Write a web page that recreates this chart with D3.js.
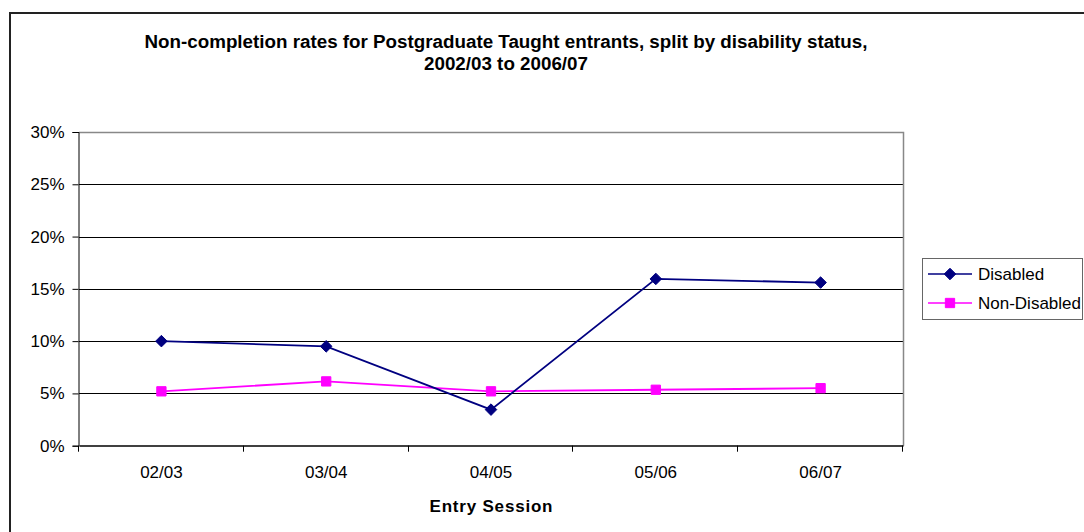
<!DOCTYPE html>
<html>
<head>
<meta charset="utf-8">
<script src="https://cdn.jsdelivr.net/npm/d3@7"></script>
<style>
  body { margin: 0; background: #fff; }
  svg { display: block; font-family: "Liberation Sans", Arial, sans-serif; }
</style>
</head>
<body>
<svg width="1084" height="532"></svg>
<script>
const sessions = ["02/03", "03/04", "04/05", "05/06", "06/07"];
const disabled = [10.0, 9.5, 3.45, 15.95, 15.6];
const nonDisabled = [5.2, 6.15, 5.2, 5.35, 5.5];
const yTicks = [0, 5, 10, 15, 20, 25, 30];

const svg = d3.select("svg");
const font = "Liberation Sans, Arial, sans-serif";
const labelSize = 17;

const plot = { left: 79, right: 903, top: 132, bottom: 445.7 };

// outer chart frame (cut off at the right and bottom)
svg.append("path")
    .attr("d", "M10,540 L10,13 L1100,13")
    .attr("fill", "none")
    .attr("stroke", "#222")
    .attr("stroke-width", 2);

// title
const title = svg.append("text")
    .attr("text-anchor", "middle")
    .attr("font-weight", "bold")
    .attr("font-size", 18.8)
    .attr("fill", "#000");
title.append("tspan").attr("x", 506).attr("y", 48)
    .attr("textLength", 723).attr("lengthAdjust", "spacingAndGlyphs")
    .text("Non-completion rates for Postgraduate Taught entrants, split by disability status,");
title.append("tspan").attr("x", 506).attr("y", 70)
    .text("2002/03 to 2006/07");

const x = d3.scaleBand()
    .domain(sessions)
    .range([plot.left, plot.right]);

const y = d3.scaleLinear()
    .domain([0, 30])
    .range([plot.bottom, plot.top]);

// gridlines
svg.append("g")
    .selectAll("line")
    .data(yTicks.filter(d => d > 0 && d < 30))
    .enter()
    .append("line")
    .attr("x1", plot.left)
    .attr("x2", plot.right)
    .attr("y1", d => Math.round(y(d)) + 0.5)
    .attr("y2", d => Math.round(y(d)) + 0.5)
    .attr("stroke", "#000")
    .attr("stroke-width", 1);

// plot area border (top and right in gray)
svg.append("path")
    .attr("d", `M${plot.left},${Math.round(plot.top) + 0.5} L${plot.right + 0.5},${Math.round(plot.top) + 0.5} L${plot.right + 0.5},${plot.bottom}`)
    .attr("fill", "none")
    .attr("stroke", "#888")
    .attr("stroke-width", 1.5);

// y axis
const yAxis = svg.append("g")
    .attr("transform", `translate(${plot.left - 0.5},0)`)
    .call(d3.axisLeft(y).tickValues(yTicks).tickFormat(d => d + "%").tickSize(6).tickPadding(8));
yAxis.select(".domain").attr("stroke", "#000");
yAxis.selectAll("text").attr("font-size", labelSize).attr("font-family", font).attr("fill", "#000");

// x axis
const xAxis = svg.append("g")
    .attr("transform", `translate(0,${Math.round(plot.bottom) - 0.5})`)
    .call(d3.axisBottom(x).tickSize(0).tickPadding(20));
xAxis.select(".domain").attr("stroke", "#000").attr("stroke-width", 1.5);
xAxis.selectAll("text").attr("font-size", labelSize).attr("font-family", font).attr("fill", "#000");

// category boundary ticks
svg.append("g")
    .selectAll("line")
    .data(d3.range(sessions.length + 1))
    .enter()
    .append("line")
    .attr("x1", i => Math.round(plot.left + i * x.step()) - 0.5)
    .attr("x2", i => Math.round(plot.left + i * x.step()) - 0.5)
    .attr("y1", plot.bottom)
    .attr("y2", plot.bottom + 6)
    .attr("stroke", "#000");

svg.append("text")
    .attr("x", (plot.left + plot.right) / 2)
    .attr("y", 512)
    .attr("text-anchor", "middle")
    .attr("font-weight", "bold")
    .attr("font-size", 17)
    .attr("textLength", 123)
    .attr("lengthAdjust", "spacing")
    .text("Entry Session");

const cx = d => x(d) + x.bandwidth() / 2;

const series = [
    { name: "Disabled", values: disabled, color: "#000080", shape: d3.symbolDiamond2, size: 85 },
    { name: "Non-Disabled", values: nonDisabled, color: "#FF00FF", shape: d3.symbolSquare2, size: 110 }
];

const line = d3.line()
    .x((d, i) => cx(sessions[i]))
    .y(d => y(d));

// draw non-disabled first so the disabled line sits on top
[series[1], series[0]].forEach(s => {
    svg.append("path")
        .datum(s.values)
        .attr("d", line)
        .attr("fill", "none")
        .attr("stroke", s.color)
        .attr("stroke-width", 1.8);

    svg.append("g")
        .selectAll("path")
        .data(s.values)
        .enter()
        .append("path")
        .attr("transform", (d, i) => `translate(${cx(sessions[i])},${y(d)})`)
        .attr("d", d3.symbol().type(s.shape).size(s.size))
        .attr("fill", s.color)
        .attr("stroke", s.color);
});

// legend
const legend = svg.append("g");
legend.append("rect")
    .attr("x", 922.5)
    .attr("y", 258.5)
    .attr("width", 160)
    .attr("height", 61)
    .attr("fill", "#fff")
    .attr("stroke", "#666")
    .attr("stroke-width", 1);

series.forEach((s, i) => {
    const ly = 274 + i * 29;
    legend.append("line")
        .attr("x1", 928)
        .attr("x2", 972)
        .attr("y1", ly)
        .attr("y2", ly)
        .attr("stroke", s.color)
        .attr("stroke-width", 1.6);
    legend.append("path")
        .attr("transform", `translate(950,${ly})`)
        .attr("d", d3.symbol().type(s.shape).size(s.size))
        .attr("fill", s.color)
        .attr("stroke", s.color);
    legend.append("text")
        .attr("x", 978)
        .attr("y", ly + 6)
        .attr("font-size", labelSize)
        .text(s.name);
});
</script>
</body>
</html>
